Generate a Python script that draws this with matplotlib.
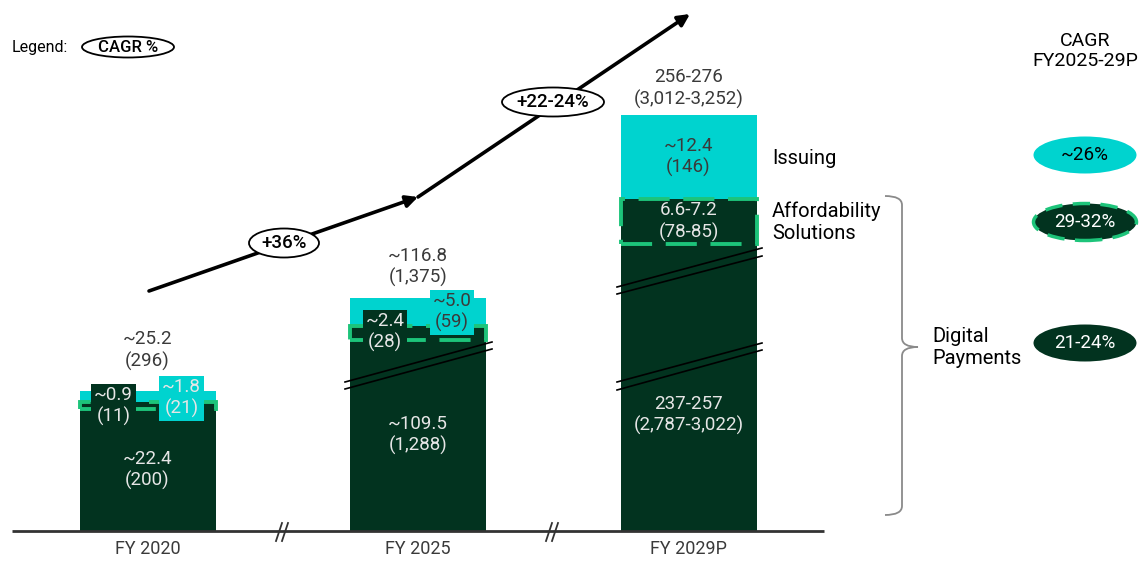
import matplotlib
matplotlib.use("Agg")
import matplotlib.pyplot as plt
from matplotlib.patches import Ellipse, FancyArrowPatch, PathPatch
from matplotlib.path import Path

plt.rcParams['font.family'] = ['Roboto', 'DejaVu Sans']

# ---------------- data ----------------
categories = ["FY 2020", "FY 2025", "FY 2029P"]
total_labels = ["~25.2\n(296)", "~116.8\n(1,375)", "256-276\n(3,012-3,252)"]
digital_labels = ["~22.4\n(200)", "~109.5\n(1,288)", "237-257\n(2,787-3,022)"]
afford_labels = ["~0.9\n(11)", "~2.4\n(28)", "6.6-7.2\n(78-85)"]
issuing_labels = ["~1.8\n(21)", "~5.0\n(59)", "~12.4\n(146)"]
# schematic (broken-axis) drawn heights of each segment
digital_drawn = [122, 191, 287]
afford_drawn = [7, 14, 45]
issuing_drawn = [11, 28, 84]
segment_names = ["Issuing", "Affordability\nSolutions", "Digital\nPayments"]
cagr_segment = ["~26%", "29-32%", "21-24%"]
cagr_period = ["+36%", "+22-24%"]

DARK = "#02331F"
CYAN = "#00D3CF"
GREEN = "#1DC47A"
GRAYTXT = "#3A3A3A"
LIGHTTXT = "#E6E6E6"
NUMW = 'normal'

W, H = 1142, 561
fig = plt.figure(figsize=(W / 100, H / 100), dpi=100)
ax = fig.add_axes([0, 0, 1, 1])
ax.set_xlim(0, W)
ax.set_ylim(0, H)
ax.axis('off')


def Y(py):
    return H - py


base = Y(531)
xc = [147.5, 418, 688.5]
bw = 136

# bars
ax.bar(xc, digital_drawn, width=bw, bottom=base, color=DARK, edgecolor='none', zorder=2)
b2 = [base + d for d in digital_drawn]
ax.bar(xc, afford_drawn, width=bw, bottom=b2, color=DARK, edgecolor=GREEN,
       linewidth=2.8, linestyle=(0, (8, 3.5)), zorder=3)
b3 = [b + a for b, a in zip(b2, afford_drawn)]
ax.bar(xc, issuing_drawn, width=bw, bottom=b3, color=CYAN, edgecolor='none', zorder=2)

# baseline
ax.plot([12, 824], [base, base], color="#333333", lw=2, zorder=4, solid_capstyle='butt')
for bx in [283, 553]:
    for off in [-3, 3]:
        ax.plot([bx + off - 4, bx + off + 2], [Y(541), Y(523)], color="#333333", lw=1.3, zorder=4)

# x labels
for x, c in zip(xc, categories):
    ax.text(x, Y(549), c, ha='center', va='center', fontsize=13, color=GRAYTXT)

# total labels above bars
tot_y = [Y(350.5), Y(267), Y(88.5)]
for x, y, lab in zip(xc, tot_y, total_labels):
    ax.text(x, y, lab, ha='center', va='center', fontsize=13.5, color=GRAYTXT,
            linespacing=1.2, fontweight=NUMW)

# digital payment labels inside
dig_y = [Y(470), Y(435), Y(415)]
for x, y, lab in zip(xc, dig_y, digital_labels):
    ax.text(x, y, lab, ha='center', va='center', fontsize=13.5, color=LIGHTTXT, linespacing=1.2,
            zorder=5, fontweight=NUMW)

# small segment labels (boxed) for FY2020 and FY2025
aff_pos = [(113.5, Y(406)), (385, Y(332))]
iss_pos = [(181.5, Y(398)), (452, Y(312))]
for i in range(2):
    ax.text(*aff_pos[i], afford_labels[i], ha='center', va='center', fontsize=13.5, color=LIGHTTXT,
            linespacing=1.15, zorder=6, fontweight=NUMW,
            bbox=dict(boxstyle='square,pad=0.15', fc=DARK, ec='none'))
iss_col = [LIGHTTXT, GRAYTXT]
for i in range(2):
    ax.text(*iss_pos[i], issuing_labels[i], ha='center', va='center', fontsize=13.5, color=iss_col[i],
            linespacing=1.15, zorder=6, fontweight=NUMW,
            bbox=dict(boxstyle='square,pad=0.15', fc=CYAN, ec='none'))

# FY2029P segment labels
ax.text(xc[2], b3[2] + issuing_drawn[2] / 2, issuing_labels[2], ha='center', va='center',
        fontsize=13.5, color=GRAYTXT, linespacing=1.2, zorder=5, fontweight=NUMW)
ax.text(xc[2], b2[2] + afford_drawn[2] / 2, afford_labels[2], ha='center', va='center',
        fontsize=13.5, color=LIGHTTXT, linespacing=1.2, zorder=5, fontweight=NUMW)

# break marks in bars
breaks = [((345, 382), (492, 342)), ((345, 389), (492, 349)),
          ((617, 287), (762, 248)), ((617, 294), (762, 256)),
          ((617, 382), (762, 343)), ((617, 390), (762, 350))]
for (x0, y0), (x1, y1) in breaks:
    ax.plot([x0, x1], [Y(y0), Y(y1)], color="black", lw=1.2, zorder=7)

# growth arrows
arr1 = FancyArrowPatch((149, Y(291)), (418, Y(197)), arrowstyle='-|>,head_length=7,head_width=3.5',
                       color='black', lw=2.6, shrinkA=0, shrinkB=0, zorder=8)
arr2 = FancyArrowPatch((418, Y(197)), (690, Y(14)), arrowstyle='-|>,head_length=7,head_width=3.5',
                       color='black', lw=2.6, shrinkA=0, shrinkB=0, zorder=8)
ax.add_patch(arr1)
ax.add_patch(arr2)

for (cx, cy, w), lab in zip([(284, 243, 70), (553, 102, 102)], cagr_period):
    ax.add_patch(Ellipse((cx, Y(cy)), w, 29, fc='white', ec='black', lw=1.3, zorder=9))
    ax.text(cx, Y(cy), lab, ha='center', va='center', fontsize=13.5, color='black',
            fontweight='medium', zorder=10)

# legend
ax.text(12, Y(47), "Legend:", ha='left', va='center', fontsize=11.5, color='black')
ax.add_patch(Ellipse((128, Y(47)), 92, 21, fc='white', ec='black', lw=1.3, zorder=9))
ax.text(128, Y(47), "CAGR %", ha='center', va='center', fontsize=12, color='black',
        fontweight='medium', zorder=10)

# segment names
ax.text(772, Y(158), segment_names[0], ha='left', va='center', fontsize=14.5, color='black')
ax.text(772, Y(222), segment_names[1], ha='left', va='center', fontsize=14.5, color='black',
        linespacing=1.2)
ax.text(932, Y(347), segment_names[2], ha='left', va='center', fontsize=14.5, color='black',
        linespacing=1.2)

# brace
verts = [(885, Y(196)), (902, Y(196)), (902, Y(205)),
         (902, Y(338)),
         (902, Y(347)), (918, Y(347)),
         (902, Y(347)), (902, Y(356)),
         (902, Y(506)),
         (902, Y(515)), (885, Y(515))]
codes = [Path.MOVETO, Path.CURVE3, Path.CURVE3,
         Path.LINETO,
         Path.CURVE3, Path.CURVE3,
         Path.CURVE3, Path.CURVE3,
         Path.LINETO,
         Path.CURVE3, Path.CURVE3]
ax.add_patch(PathPatch(Path(verts, codes), fc='none', ec='#8A8A8A', lw=1.3))

# CAGR column
ax.text(1085, Y(51), "CAGR\nFY2025-29P", ha='center', va='center', fontsize=14, color='black',
        linespacing=1.15)
ell = [(155, CYAN, 'none', '-', 'black'), (222, DARK, GREEN, (0, (5, 3)), 'white'),
       (343, DARK, 'none', '-', 'white')]
for (cy, fc, ec, ls, tc), lab in zip(ell, cagr_segment):
    ax.add_patch(Ellipse((1085, Y(cy)), 103, 37, fc=fc, ec=ec, lw=2.5, linestyle=ls, zorder=9))
    ax.text(1085, Y(cy), lab, ha='center', va='center', fontsize=13.5, color=tc,
            zorder=10)

fig.savefig("out.png", dpi=100)
